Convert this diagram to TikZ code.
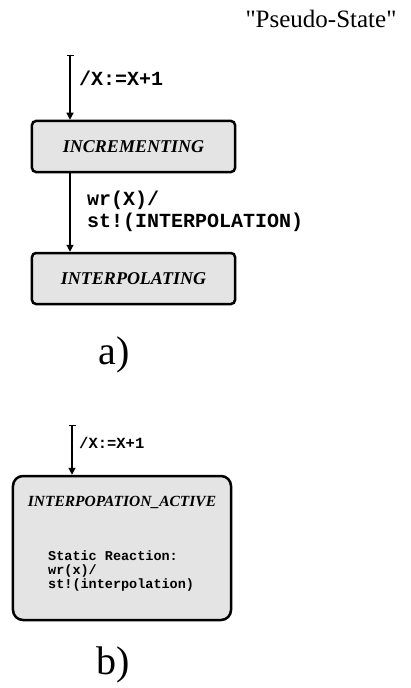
\documentclass[tikz,border=0pt]{standalone}
\usepackage{fontspec}
\setmainfont{Liberation Serif}
\newfontfamily\plainserif{Liberation Serif}
\newfontfamily\monofont{Liberation Mono}
\usetikzlibrary{arrows.meta}
\definecolor{stfill}{HTML}{E4E4E4}
\tikzset{
  statebox/.style={draw=black, line width=2.5bp, fill=stfill, rounded corners=4bp,
    minimum width=203bp, minimum height=51bp, inner sep=0pt,
    font=\plainserif\bfseries\itshape\fontsize{18bp}{20bp}\selectfont},
  bigstate/.style={draw=black, line width=2.5bp, fill=stfill, rounded corners=10bp,
    minimum width=218bp, minimum height=144bp, inner sep=0pt},
  trans/.style={line width=1.2bp, {Bar[width=7bp]}-{Triangle[width=7bp,length=7bp]}},
  flow/.style={line width=1.2bp, -{Triangle[width=7bp,length=7bp]}},
  actlabel/.style={anchor=west, inner sep=0pt, align=left,
    font=\monofont\bfseries\fontsize{20bp}{22bp}\selectfont},
  caption/.style={inner sep=0pt, font=\fontsize{40bp}{44bp}\selectfont}
}
\begin{document}
\begin{tikzpicture}[x=1bp, y=-1bp]
  \useasboundingbox (0,0) rectangle (410,688);

  % heading
  \node[inner sep=0pt, font=\plainserif\fontsize{25bp}{28bp}\selectfont] (pseudo) at (321,19) {"Pseudo-State"};

  % a) two states with a transition
  \coordinate (s1) at (70,55);
  \node[statebox] (incr) at (133.5,146.5) {INCREMENTING};
  \node[statebox] (interp) at (133.5,278.5) {INTERPOLATING};
  \draw[trans] (s1) -- (s1 |- incr.north);
  \draw[flow] (s1 |- incr.south) -- (s1 |- interp.north);
  \node[actlabel] (act1) at (79,78) {/X:=X+1};
  \node[actlabel] (act2) at (87,211) {wr(X)/\\st!(INTERPOLATION)};
  \node[caption] (capa) at (114,355) {a)};

  % b) one state with a static reaction
  \coordinate (s3) at (72,425);
  \node[bigstate] (active) at (122,548) {};
  \draw[trans] (s3) -- (s3 |- active.north);
  \node[actlabel, font=\monofont\bfseries\fontsize{15.5bp}{17bp}\selectfont] (act3) at (79,443) {/X:=X+1};
  \node[inner sep=0pt, font=\plainserif\bfseries\itshape\fontsize{15.5bp}{18bp}\selectfont] (title3) at (122,502) {INTERPOPATION\_ACTIVE};
  \node[actlabel, font=\monofont\bfseries\fontsize{13.5bp}{14bp}\selectfont] (react) at (48,571)
    {Static Reaction:\\wr(x)/\\st!(interpolation)};
  \node[caption] (capb) at (113,665) {b)};
\end{tikzpicture}
\end{document}
